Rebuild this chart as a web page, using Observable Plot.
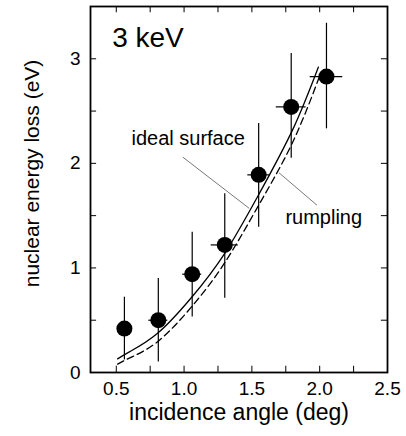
<!DOCTYPE html>
<html>
<head>
<meta charset="utf-8">
<script src="https://cdn.jsdelivr.net/npm/d3@7"></script>
<script src="https://cdn.jsdelivr.net/npm/@observablehq/plot@0.6"></script>
<style>
  html, body { margin: 0; padding: 0; background: #fff; }
  svg { font-family: "Liberation Sans", Arial, Helvetica, sans-serif; }
</style>
</head>
<body>
<div id="chart"></div>
<script>
// measured data points
const angle   = [0.56, 0.81, 1.06, 1.30, 1.55, 1.79, 2.05];
const loss    = [0.42, 0.50, 0.94, 1.22, 1.89, 2.54, 2.83];
const lossLo  = [0.12, 0.10, 0.53, 0.71, 1.39, 2.05, 2.33];
const lossHi  = [0.72, 0.90, 1.34, 1.71, 2.38, 3.05, 3.34];
const angleErr = [0.05, 0.07, 0.07, 0.10, 0.08, 0.11, 0.12];

// calculated curves
const idealX = [0.51, 0.6, 0.8, 1.05, 1.3, 1.55, 1.8, 1.99];
const idealY = [0.13, 0.20, 0.37, 0.71, 1.14, 1.70, 2.32, 2.92];
const rumpX  = [0.51, 0.6, 0.8, 1.05, 1.3, 1.55, 1.8, 2.01];
const rumpY  = [0.08, 0.14, 0.29, 0.62, 1.05, 1.60, 2.20, 2.87];

// ticks
const xTickLabels = [0.5, 1.0, 1.5, 2.0, 2.5];
const xTickMarks  = [0.5, 0.75, 1.0, 1.25, 1.5, 1.75, 2.0, 2.25];
const yTickLabels = [0, 1, 2, 3];
const yTickMarks  = [0.5, 1.0, 1.5, 2.0, 2.5, 3.0];

// annotations
const annLabels = ["ideal surface", "rumpling"];
const annTextX  = [1.03, 2.03];
const annTextY  = [2.24, 1.48];
const leadX1 = [0.99, 1.70];
const leadY1 = [2.06, 1.91];
const leadX2 = [1.48, 1.98];
const leadY2 = [1.57, 1.60];

const points = angle.map((a, i) => ({x: a, y: loss[i], lo: lossLo[i], hi: lossHi[i], xl: a - angleErr[i], xh: a + angleErr[i]}));
const ideal = idealX.map((x, i) => ({x, y: idealY[i]}));
const rump = rumpX.map((x, i) => ({x, y: rumpY[i]}));
const ann = annLabels.map((t, i) => ({t, x: annTextX[i], y: annTextY[i]}));
const leads = leadX1.map((x, i) => ({x1: x, y1: leadY1[i], x2: leadX2[i], y2: leadY2[i]}));

const xDom = [0.31, 2.5];
const yDom = [0, 3.5];
const xt = 0.045, yt = 0.06;

const chart = Plot.plot({
  width: 406,
  height: 436,
  marginLeft: 90,
  marginRight: 19,
  marginTop: 6,
  marginBottom: 64,
  x: {domain: xDom},
  y: {domain: yDom},
  style: {fontFamily: "'Liberation Sans', Arial, sans-serif", background: "#fff", color: "#000"},
  marks: [
    // tick labels
    Plot.axisX(xTickLabels, {tickSize: 0, tickPadding: 9, tickFormat: d3.format(".1f"), fontSize: 19, label: null}),
    Plot.axisY(yTickLabels, {tickSize: 0, tickPadding: 10, tickFormat: d3.format("d"), fontSize: 19, label: null}),
    // inward ticks
    Plot.ruleX(xTickMarks, {x: d => d, y1: 0, y2: yt, stroke: "#000", strokeWidth: 1}),
    Plot.ruleX(xTickMarks, {x: d => d, y1: 3.5, y2: 3.5 - yt, stroke: "#000", strokeWidth: 1}),
    Plot.ruleY(yTickMarks, {y: d => d, x1: xDom[0], x2: xDom[0] + xt, stroke: "#000", strokeWidth: 1}),
    Plot.ruleY(yTickMarks, {y: d => d, x1: xDom[1], x2: xDom[1] - xt, stroke: "#000", strokeWidth: 1}),
    Plot.frame({stroke: "#000", strokeWidth: 1.8}),
    // curves
    Plot.line(ideal, {x: "x", y: "y", curve: "natural", stroke: "#000", strokeWidth: 1.3}),
    Plot.line(rump, {x: "x", y: "y", curve: "natural", stroke: "#000", strokeWidth: 1.3, strokeDasharray: "7,4"}),
    // error bars
    Plot.ruleX(points, {x: "x", y1: "lo", y2: "hi", stroke: "#000", strokeWidth: 1.2}),
    Plot.ruleY(points, {y: "y", x1: "xl", x2: "xh", stroke: "#000", strokeWidth: 1.2}),
    Plot.dot(points, {x: "x", y: "y", r: 8, fill: "#000", stroke: "none"}),
    // annotations
    Plot.link(leads, {x1: "x1", y1: "y1", x2: "x2", y2: "y2", stroke: "#555", strokeWidth: 0.8}),
    Plot.text(ann, {x: "x", y: "y", text: "t", fontSize: 20, fill: "#000"}),
    Plot.text(["3 keV"], {x: 0.47, y: 3.2, text: d => d, fontSize: 28, textAnchor: "start", fill: "#000"}),
    // axis titles
    Plot.text(["incidence angle (deg)"], {frameAnchor: "bottom", dy: 47, text: d => d, fontSize: 23, fill: "#000"}),
    Plot.text(["nuclear energy loss (eV)"], {frameAnchor: "left", textAnchor: "middle", dx: -58, dy: -16, rotate: -90, text: d => d, fontSize: 21, fill: "#000"})
  ]
});
document.getElementById("chart").appendChild(chart);
</script>
</body>
</html>
